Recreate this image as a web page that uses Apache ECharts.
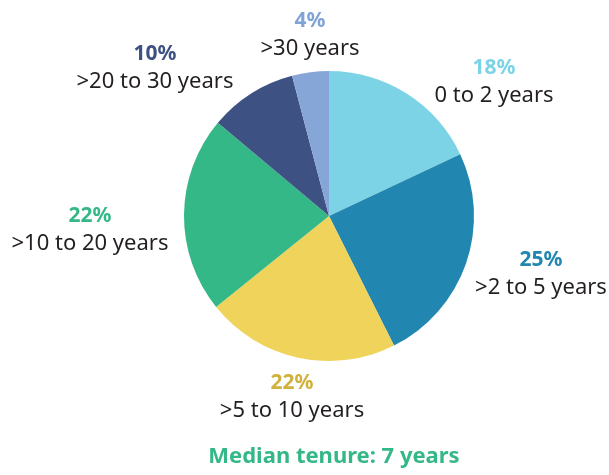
<!DOCTYPE html>
<html>
<head>
<meta charset="utf-8">
<script src="https://cdn.jsdelivr.net/npm/echarts@6/dist/echarts.min.js"></script>
<style>
  html, body { margin: 0; padding: 0; background: #fff; }
  #main { width: 609px; height: 475px; }
</style>
</head>
<body>
<div id="main"></div>
<script>
// tenure groups, clockwise from 12 o'clock
var categories = ['0 to 2 years', '>2 to 5 years', '>5 to 10 years', '>10 to 20 years', '>20 to 30 years', '>30 years'];
// slice sizes
var values = [18, 24.6, 21.6, 21.9, 9.8, 4.1];
// percentages as printed on the labels
var pctLabels = ['18%', '25%', '22%', '22%', '10%', '4%'];
var footnote = 'Median tenure: 7 years';

var sliceColors = ['#7dd3e6', '#2287b0', '#f0d35a', '#35b887', '#3d5282', '#86a6d8'];
var pctColors = ['#7dd3e6', '#2287b0', '#d0b13c', '#35b887', '#3d5282', '#7fa3d6'];
// label centres relative to the pie centre
var labelOffsets = [[165, -134], [212, 58], [-37, 181], [-239, 14], [-174, -148], [-19, -181]];

var cx = 329, cy = 216;
var fontFamily = '"Noto Sans", "Open Sans", sans-serif';

var chart = echarts.init(document.getElementById('main'));

var data = categories.map(function (name, i) {
  return {
    name: name,
    value: values[i],
    itemStyle: { color: sliceColors[i] },
    label: {
      rich: {
        p: { color: pctColors[i], fontWeight: 'bold', fontSize: 21, lineHeight: 27, fontFamily: fontFamily, align: 'center' },
        c: { color: '#231f20', fontSize: 22, lineHeight: 27, fontFamily: fontFamily, align: 'center' }
      }
    }
  };
});

chart.setOption({
  backgroundColor: '#fff',
  animation: false,
  title: {
    text: footnote,
    left: cx,
    textAlign: 'center',
    top: 441,
    textStyle: { color: '#35b887', fontWeight: 'bold', fontSize: 22, fontFamily: fontFamily }
  },
  series: [{
    type: 'pie',
    center: [cx, cy],
    radius: 145,
    startAngle: 90,
    clockwise: true,
    data: data,
    label: {
      show: true,
      position: 'outside',
      overflow: 'none',
      formatter: function (p) {
        return '{p|' + pctLabels[p.dataIndex] + '}\n{c|' + p.name + '}';
      }
    },
    labelLine: { show: false },
    labelLayout: function (params) {
      var o = labelOffsets[params.dataIndex];
      return { x: cx + o[0], y: cy + o[1], align: 'center', verticalAlign: 'middle' };
    },
    emphasis: { disabled: true }
  }]
});
</script>
</body>
</html>
